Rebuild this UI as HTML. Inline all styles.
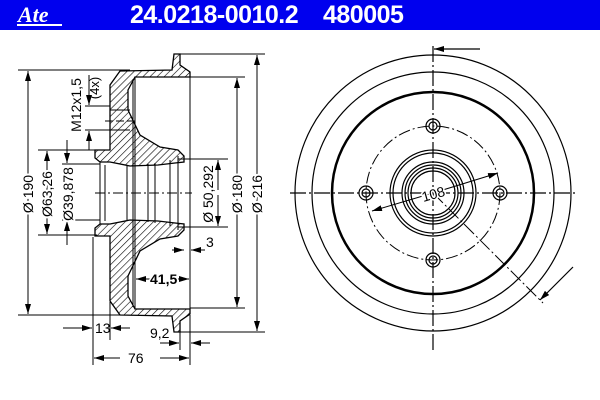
<!DOCTYPE html>
<html><head><style>
body{margin:0;width:600px;height:400px;background:#fff;overflow:hidden;font-family:"Liberation Sans",sans-serif}
.bar{position:absolute;left:0;top:0;width:600px;height:30px;background:#0000ee}
.t{position:absolute;top:1px;color:#fff;font-weight:bold;font-size:25px;letter-spacing:-0.5px}
</style></head><body>
<div class="bar"></div>
<div class="t" style="left:130px">24.0218-0010.2</div>
<div class="t" style="left:323px">480005</div>
<div style="position:absolute;left:18px;top:2px;color:#fff;font-style:italic;font-weight:bold;font-size:22px;font-family:'Liberation Serif',serif">Ate</div>
<div style="position:absolute;left:17px;top:24px;width:45px;height:2px;background:#fff"></div>
<svg width="600" height="400" style="position:absolute;left:0;top:0" font-family="Liberation Sans" font-size="12" fill="#000">
<defs>
<pattern id="h" width="5" height="5" patternUnits="userSpaceOnUse" patternTransform="rotate(45)"><line x1="0" y1="0" x2="0" y2="5" stroke="#000" stroke-width="1.2"/></pattern>
<marker id="a" markerWidth="10" markerHeight="6" refX="10" refY="3" orient="auto" markerUnits="userSpaceOnUse"><path d="M0,0L10,3L0,6z"/></marker>
</defs>
<g stroke="#000" stroke-width="1.3" fill="url(#h)">
<path d="M110,150 L110,85 L120,71 L172,70 L174,54 L180,54 L180,65 L190,72 L190,77 L135,77 L128,90 L128,110 L140,135 L160,147 L178,150 L184,156 L184,162 L175,163 L158,165 L130,166 L110,162 L100,162 L95,158 L95,150 Z"/>
<path d="M110,236 L110,301 L120,315 L172,316 L174,332 L180,332 L180,321 L190,314 L190,309 L135,309 L128,296 L128,276 L140,251 L160,239 L178,236 L184,230 L184,224 L175,223 L158,221 L130,220 L110,224 L100,224 L95,228 L95,236 Z"/>
</g>
<g stroke="#000" stroke-width="1" fill="none">
<line x1="190" y1="72" x2="190" y2="314"/><line x1="135" y1="77" x2="135" y2="309"/><line x1="133" y1="79" x2="133" y2="307"/>
<line x1="100" y1="162" x2="100" y2="224"/><line x1="105" y1="165" x2="105" y2="221"/><line x1="127" y1="166" x2="127" y2="220"/>
<line x1="148" y1="164" x2="148" y2="222"/><line x1="155" y1="163" x2="155" y2="223"/><line x1="170" y1="160" x2="170" y2="226"/><line x1="178" y1="156" x2="178" y2="230"/>
<line x1="95" y1="193" x2="192" y2="193" stroke-dasharray="10,3,2,3"/>
<line x1="110" y1="110" x2="130" y2="110"/><line x1="110" y1="130" x2="130" y2="130"/><line x1="105" y1="121" x2="137" y2="121" stroke-dasharray="8,3"/>
<line x1="18" y1="70" x2="130" y2="70"/><line x1="18" y1="315" x2="120" y2="315"/>
<line x1="180" y1="54" x2="265" y2="54"/><line x1="180" y1="332" x2="265" y2="332"/>
<line x1="190" y1="77" x2="245" y2="77"/><line x1="190" y1="308" x2="245" y2="308"/>
<line x1="38" y1="150" x2="97" y2="150"/><line x1="38" y1="235" x2="97" y2="235"/>
<line x1="62" y1="164" x2="100" y2="164"/><line x1="62" y1="220" x2="100" y2="220"/>
<line x1="178" y1="159" x2="228" y2="159"/><line x1="178" y1="227" x2="228" y2="227"/>
<line x1="93" y1="237" x2="93" y2="365"/><line x1="110" y1="302" x2="110" y2="340"/><line x1="180" y1="332" x2="180" y2="350"/><line x1="190" y1="315" x2="190" y2="365"/>
<line x1="85" y1="106" x2="110" y2="106"/><line x1="85" y1="130" x2="110" y2="130"/>
</g>
<g stroke="#000" stroke-width="1" marker-end="url(#a)">
<line x1="28" y1="190" x2="28" y2="71"/><line x1="28" y1="195" x2="28" y2="314"/>
<line x1="257" y1="190" x2="257" y2="55"/><line x1="257" y1="195" x2="257" y2="331"/>
<line x1="237" y1="190" x2="237" y2="78"/><line x1="237" y1="195" x2="237" y2="307"/>
<line x1="47" y1="190" x2="47" y2="151"/><line x1="47" y1="195" x2="47" y2="234"/>
<line x1="67" y1="140" x2="67" y2="163"/><line x1="67" y1="245" x2="67" y2="221"/>
<line x1="218" y1="190" x2="218" y2="160"/><line x1="218" y1="195" x2="218" y2="226"/>
<line x1="89" y1="75" x2="89" y2="105"/><line x1="89" y1="150" x2="89" y2="131"/>
<line x1="172" y1="250" x2="184" y2="250"/><line x1="205" y1="250" x2="191" y2="250"/>
<line x1="150" y1="279" x2="136" y2="279"/><line x1="175" y1="279" x2="189" y2="279"/>
<line x1="63" y1="328" x2="92" y2="328"/><line x1="130" y1="328" x2="111" y2="328"/>
<line x1="160" y1="343" x2="179" y2="343"/><line x1="210" y1="343" x2="191" y2="343"/>
<line x1="120" y1="358" x2="94" y2="358"/><line x1="160" y1="358" x2="189" y2="358"/>
</g>
<g font-size="14">
<text transform="translate(33,194) rotate(-90)" text-anchor="middle" stroke="#fff" stroke-width="4" style="paint-order:stroke">Ø 190</text>
<text transform="translate(262,194) rotate(-90)" text-anchor="middle" stroke="#fff" stroke-width="4" style="paint-order:stroke">Ø 216</text>
<text transform="translate(242,194) rotate(-90)" text-anchor="middle" stroke="#fff" stroke-width="4" style="paint-order:stroke">Ø 180</text>
<text transform="translate(52,194) rotate(-90)" text-anchor="middle" stroke="#fff" stroke-width="4" style="paint-order:stroke">Ø63,26</text>
<text transform="translate(73,194) rotate(-90)" text-anchor="middle" stroke="#fff" stroke-width="4" style="paint-order:stroke">Ø39,878</text>
<text transform="translate(213,194) rotate(-90)" text-anchor="middle" stroke="#fff" stroke-width="4" style="paint-order:stroke">Ø 50,292</text>
<text transform="translate(81,105) rotate(-90)" text-anchor="middle">M12x1,5</text>
<text transform="translate(99,88) rotate(-90)" text-anchor="middle" font-size="13">(4x)</text>
<text x="206" y="247">3</text>
<text x="150" y="284" font-weight="bold" stroke="#fff" stroke-width="3" style="paint-order:stroke">41,5</text>
<text x="95" y="333">13</text>
<text x="150" y="338">9,2</text>
<text x="128" y="363" stroke="#fff" stroke-width="4" style="paint-order:stroke">76</text>
</g>
<g stroke="#000" fill="none">
<circle cx="433" cy="193" r="138" stroke-width="1.2"/>
<circle cx="433" cy="193" r="121" stroke-width="1.2"/>
<circle cx="433" cy="193" r="101" stroke-width="2.5"/>
<circle cx="433" cy="193" r="67" stroke-width="1" stroke-dasharray="12,3,2,3"/>
<circle cx="433" cy="193" r="43" stroke-width="1.2"/><circle cx="433" cy="193" r="40" stroke-width="1.2"/>
<circle cx="433" cy="193" r="31" stroke-width="1.2"/><circle cx="433" cy="193" r="28" stroke-width="1.2"/>
<circle cx="433" cy="193" r="25" stroke-width="1.2"/><circle cx="433" cy="193" r="22" stroke-width="1.2"/>
<g stroke-width="1.2">
<circle cx="433" cy="126" r="7"/><circle cx="433" cy="126" r="4"/>
<circle cx="433" cy="260" r="7"/><circle cx="433" cy="260" r="4"/>
<circle cx="366" cy="193" r="7"/><circle cx="366" cy="193" r="4"/>
<circle cx="500" cy="193" r="7"/><circle cx="500" cy="193" r="4"/>
</g>
<line x1="433" y1="46" x2="433" y2="350" stroke-width="1.2" stroke-dasharray="16,3,2,3"/>
<line x1="290" y1="193" x2="578" y2="193" stroke-width="1.2" stroke-dasharray="16,3,2,3"/>
<line x1="433" y1="193" x2="543" y2="303" stroke-width="1" stroke-dasharray="14,3,2,3"/>
<line x1="480" y1="49" x2="434" y2="49" stroke-width="1.2" marker-end="url(#a)"/>
<line x1="573" y1="267" x2="540" y2="300" stroke-width="1.2" marker-end="url(#a)"/>
<line x1="433" y1="193" x2="372" y2="211" stroke-width="1" marker-end="url(#a)"/>
<line x1="433" y1="193" x2="498" y2="173" stroke-width="1" marker-end="url(#a)"/>
</g>
<text x="433" y="199" text-anchor="middle" font-size="14" transform="rotate(-16 433 193)" stroke="#fff" stroke-width="3" style="paint-order:stroke">108</text>
</svg>
</body></html>
